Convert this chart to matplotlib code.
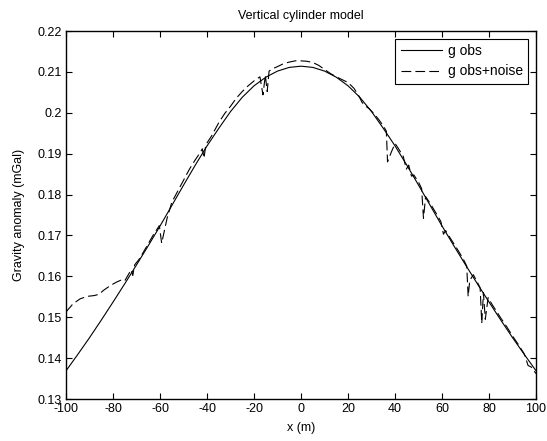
import matplotlib
matplotlib.use("Agg")
import matplotlib.pyplot as plt

plt.rcParams['font.family'] = ['Liberation Sans', 'DejaVu Sans']
plt.rcParams['lines.scale_dashes'] = False

# observed anomaly (smooth curve)
x_obs = [-100, -95, -90, -85, -80, -75, -70, -65, -60, -55, -50, -45, -40, -35, -30, -25, -20, -15, -10, -5,
         0, 5, 10, 15, 20, 25, 30, 35, 40, 45, 50, 55, 60, 65, 70, 75, 80, 85, 90, 95, 100]
g_obs = [0.1369, 0.1409, 0.1450, 0.1493, 0.1537, 0.1582, 0.1628, 0.1675, 0.1723, 0.1773, 0.1823,
         0.1872, 0.1919, 0.1962, 0.2003, 0.2038, 0.2066, 0.2087, 0.2102, 0.2111,
         0.2114,
         0.2111, 0.2102, 0.2087, 0.2066, 0.2038, 0.2003, 0.1962, 0.1919, 0.1872, 0.1823,
         0.1773, 0.1723, 0.1675, 0.1628, 0.1582, 0.1537, 0.1493, 0.1450, 0.1409, 0.1369]

# observed + noise
x_noise = [-100, -97, -94, -91, -88, -86, -84, -81, -78.5, -76.5, -75, -73.5, -72.3, -71.6, -70.8,
           -69, -67, -65, -63, -61.2, -60.3, -59.3, -57, -55, -52.5, -50, -47.5, -45, -43, -42,
           -41.3, -40.5, -38, -35, -32.5, -30, -27.5, -25, -22.5, -20, -17.5, -16.2, -15.2, -14.4,
           -13.6, -12, -10, -7.5, -5, -2.5, 0, 2.5, 5, 7.5, 10, 12.5, 15, 17.5, 20, 22.5, 24.5,
           26, 27.5, 29, 31, 33, 35, 36.3, 36.8, 38.5, 40, 41.5, 43.5, 44.8, 45.8, 47, 48, 50,
           51.3, 52.1, 53, 55, 57.5, 59.5, 60.6, 61.5, 63, 65, 67.5, 69.5, 70.5, 71.1, 71.8,
           73.3, 74.8, 76.2, 76.9, 77.6, 78.4, 79.6, 81, 83, 85, 87.5, 90, 92.5, 95, 96.6, 98, 100]
g_noise = [0.1513, 0.1533, 0.1545, 0.1551, 0.1553, 0.1556, 0.1566, 0.1578, 0.1586, 0.1591, 0.1589,
           0.1604, 0.1616, 0.1602, 0.1628, 0.1641, 0.1660, 0.1680, 0.1700, 0.1716, 0.1724, 0.1681,
           0.1742, 0.1781, 0.1808, 0.1835, 0.1862, 0.1885, 0.1902, 0.1912, 0.1889, 0.1922, 0.1944,
           0.1976, 0.1998, 0.2016, 0.2036, 0.2052, 0.2066, 0.2078, 0.2088, 0.2044, 0.2092, 0.2052,
           0.2102, 0.2108, 0.2113, 0.2120, 0.2124, 0.2127, 0.2127, 0.2126, 0.2123, 0.2116, 0.2106,
           0.2096, 0.2088, 0.2081, 0.2074, 0.2060, 0.2042, 0.2025, 0.2016, 0.2010, 0.1998, 0.1984,
           0.1968, 0.1955, 0.1880, 0.1905, 0.1925, 0.1912, 0.1893, 0.1862, 0.1872, 0.1845, 0.1848,
           0.1830, 0.1815, 0.1742, 0.1795, 0.1778, 0.1754, 0.1734, 0.1703, 0.1712, 0.1698, 0.1680,
           0.1657, 0.1637, 0.1625, 0.1551, 0.1590, 0.1604, 0.1588, 0.1572, 0.1485, 0.1560, 0.1495,
           0.1548, 0.1534, 0.1516, 0.1498, 0.1477, 0.1454, 0.1433, 0.1410, 0.1382, 0.1378, 0.1362]

x_ticks = [-100, -80, -60, -40, -20, 0, 20, 40, 60, 80, 100]
y_ticks = [0.13, 0.14, 0.15, 0.16, 0.17, 0.18, 0.19, 0.2, 0.21, 0.22]
y_labels = ['0.13', '0.14', '0.15', '0.16', '0.17', '0.18', '0.19', '0.2', '0.21', '0.22']

fig = plt.figure(figsize=(5.47, 4.41), dpi=100)
ax = fig.add_axes([0.1207, 0.0952, 0.8593, 0.8345])

ax.plot(x_obs, g_obs, color='black', linewidth=0.8, label='g obs')
ax.plot(x_noise, g_noise, color='black', linewidth=0.8, dashes=(7, 3), label='g obs+noise')

ax.set_xlim(-100, 100)
ax.set_ylim(0.13, 0.22)
ax.set_xticks(x_ticks)
ax.set_xticklabels([str(t) for t in x_ticks])
ax.set_yticks(y_ticks)
ax.set_yticklabels(y_labels)
ax.tick_params(direction='in', length=4, width=0.8, top=True, right=True, labelsize=9, pad=3)
for s in ax.spines.values():
    s.set_linewidth(1.0)

ax.set_title('Vertical cylinder model', fontsize=9, pad=9)
ax.set_xlabel('x (m)', fontsize=9, labelpad=5)
ax.set_ylabel('Gravity anomaly (mGal)', fontsize=9, labelpad=9)

leg = ax.legend(loc='upper right', fontsize=10, fancybox=False, framealpha=1, edgecolor='black',
                handlelength=3.0, borderaxespad=0.55, labelspacing=0.45, handletextpad=0.4,
                borderpad=0.4)
leg.get_frame().set_linewidth(0.8)

fig.savefig('out.png', dpi=100)
